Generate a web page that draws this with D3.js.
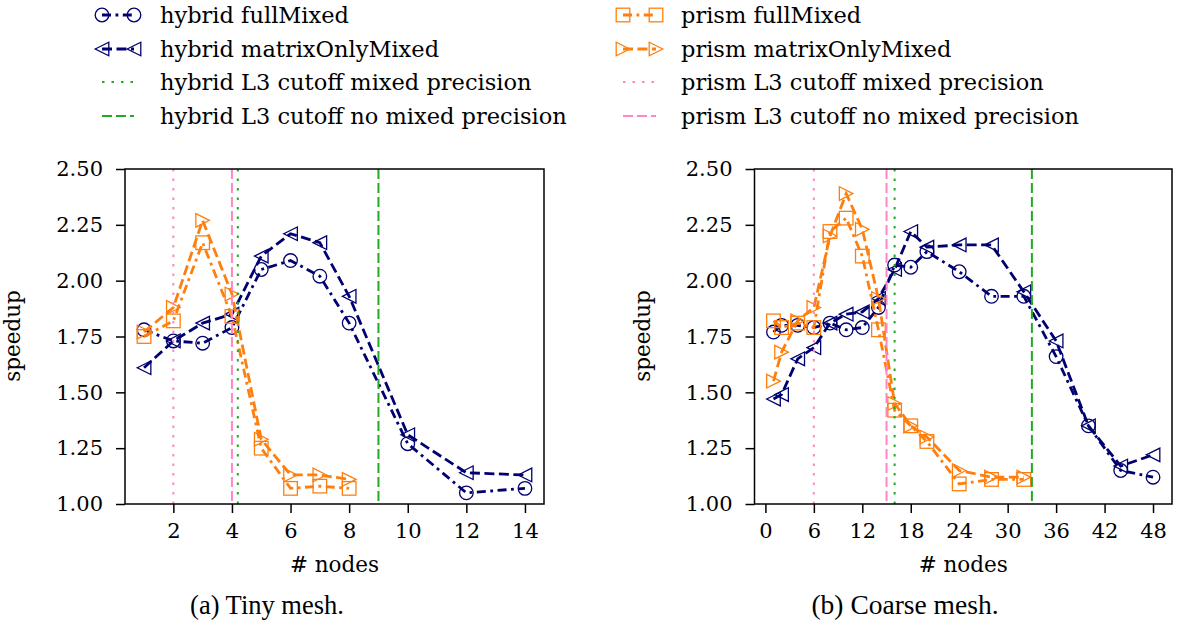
<html>
<head>
<script src="https://d3js.org/d3.v7.min.js"></script>
<style>
body { margin: 0; background: #fff; }
svg { display: block; font-family: "DejaVu Serif", serif; }
</style>
</head>
<body>
<svg width="1183" height="628"></svg>
<script>
// ---- data ----
var tinyNodes = [1, 2, 3, 4, 5, 6, 7, 8, 10, 12, 14];
var tinyHybridFull = [1.78, 1.73, 1.72, 1.79, 2.05, 2.09, 2.02, 1.81, 1.27, 1.05, 1.07];
var tinyHybridMatrix = [1.61, 1.73, 1.81, 1.85, 2.11, 2.21, 2.17, 1.93, 1.31, 1.14, 1.13];
var tinyPrismNodes = [1, 2, 3, 4, 5, 6, 7, 8];
var tinyPrismFull = [1.75, 1.82, 2.17, 1.84, 1.25, 1.07, 1.08, 1.07];
var tinyPrismMatrix = [1.77, 1.88, 2.27, 1.94, 1.29, 1.13, 1.13, 1.11];
// cutoffs: hybrid mixed, hybrid no mixed, prism mixed, prism no mixed
var tinyCutoffs = [4.2, 9, 2, 4];

var coarseNodes = [1, 2, 4, 6, 8, 10, 12, 14, 16, 18, 20, 24, 28, 32, 36, 40, 44, 48];
var coarseHybridFull = [1.77, 1.80, 1.80, 1.79, 1.81, 1.78, 1.79, 1.88, 2.07, 2.06, 2.13, 2.04, 1.93, 1.93, 1.66, 1.35, 1.15, 1.12];
var coarseHybridMatrix = [1.47, 1.49, 1.65, 1.70, 1.81, 1.85, 1.86, 1.92, 2.05, 2.22, 2.15, 2.16, 2.16, 1.95, 1.73, 1.35, 1.17, 1.22];
var coarsePrismNodes = [1, 2, 4, 6, 8, 10, 12, 14, 16, 18, 20, 24, 28, 32];
var coarsePrismFull = [1.82, 1.79, 1.81, 1.79, 2.22, 2.28, 2.11, 1.78, 1.42, 1.35, 1.28, 1.09, 1.11, 1.11];
var coarsePrismMatrix = [1.55, 1.68, 1.82, 1.88, 2.20, 2.39, 2.23, 1.92, 1.45, 1.35, 1.30, 1.15, 1.12, 1.12];
var coarseCutoffs = [16, 33, 6, 15];

var yTicks = [1.00, 1.25, 1.50, 1.75, 2.00, 2.25, 2.50];
var tinyXTicks = [2, 4, 6, 8, 10, 12, 14];
var coarseXTicks = [0, 6, 12, 18, 24, 30, 36, 42, 48];

var seriesNames = ["hybrid fullMixed", "hybrid matrixOnlyMixed", "prism fullMixed", "prism matrixOnlyMixed"];
var cutoffNames = ["hybrid L3 cutoff mixed precision", "hybrid L3 cutoff no mixed precision",
                   "prism L3 cutoff mixed precision", "prism L3 cutoff no mixed precision"];

// ---- styles ----
var navy = "#000070", orange = "#ff7f0e", green = "#22aa22", pink = "#ff85c4";
var dashed = "10,4.5", dashdot = "9,4.5,2.8,4.5";
var seriesStyle = [
  {color: navy, dash: dashdot, marker: "circle"},
  {color: navy, dash: dashed, marker: "tleft"},
  {color: orange, dash: dashdot, marker: "square"},
  {color: orange, dash: dashed, marker: "tright"}
];
var cutoffStyle = [
  {color: green, dash: "2.5,7"},
  {color: green, dash: "10,4"},
  {color: pink, dash: "2.5,7"},
  {color: pink, dash: "10,4"}
];

var svg = d3.select("svg");

function drawMarker(g, kind, x, y, color) {
  var s = 6.8;
  if (kind == "circle") {
    g.append("circle").attr("cx", x).attr("cy", y).attr("r", s)
      .attr("fill", "none").attr("stroke", color).attr("stroke-width", 1.3);
  } else if (kind == "square") {
    g.append("rect").attr("x", x - s).attr("y", y - s).attr("width", 2 * s).attr("height", 2 * s)
      .attr("fill", "none").attr("stroke", color).attr("stroke-width", 1.3);
  } else {
    var d = kind == "tleft" ? [[x - s, y], [x + s, y - s], [x + s, y + s]]
                            : [[x + s, y], [x - s, y - s], [x - s, y + s]];
    g.append("path").attr("d", "M" + d.join("L") + "Z")
      .attr("fill", "none").attr("stroke", color).attr("stroke-width", 1.3);
  }
}

function drawPanel(p) {
  var g = svg.append("g");
  var x = d3.scaleLinear().domain(p.xDomain).range([p.left, p.right]);
  var y = d3.scaleLinear().domain([1.0, 2.5]).range([504, 169]);

  var series = [
    {xs: p.nodes, ys: p.hybridFull},
    {xs: p.nodes, ys: p.hybridMatrix},
    {xs: p.prismNodes, ys: p.prismFull},
    {xs: p.prismNodes, ys: p.prismMatrix}
  ];
  var line = d3.line().x(function(d) { return x(d[0]); }).y(function(d) { return y(d[1]); });

  series.forEach(function(s, i) {
    var st = seriesStyle[i];
    var pts = s.xs.map(function(v, j) { return [v, s.ys[j]]; });
    g.append("path").attr("d", line(pts)).attr("fill", "none")
      .attr("stroke", st.color).attr("stroke-width", 2.8)
      .attr("stroke-dasharray", st.dash);
    pts.forEach(function(pt) { drawMarker(g, st.marker, x(pt[0]), y(pt[1]), st.color); });
  });

  p.cutoffs.forEach(function(c, i) {
    g.append("line").attr("x1", x(c)).attr("x2", x(c)).attr("y1", 169).attr("y2", 504)
      .attr("stroke", cutoffStyle[i].color).attr("stroke-width", 2)
      .attr("stroke-dasharray", cutoffStyle[i].dash);
  });

  // frame
  g.append("rect").attr("x", p.left).attr("y", 169).attr("width", p.right - p.left).attr("height", 335)
    .attr("fill", "none").attr("stroke", "#000").attr("stroke-width", 1.5);

  var xAxis = g.append("g").attr("transform", "translate(0,504)")
    .call(d3.axisBottom(x).tickValues(p.xTicks).tickSize(9).tickPadding(10).tickFormat(d3.format("d")));
  var yAxis = g.append("g").attr("transform", "translate(" + p.left + ",0)")
    .call(d3.axisLeft(y).tickValues(yTicks).tickSize(9).tickPadding(13).tickFormat(d3.format(".2f")));
  [xAxis, yAxis].forEach(function(a) {
    a.select(".domain").remove();
    a.selectAll(".tick line").attr("stroke", "#000").attr("stroke-width", 1.5);
    a.selectAll("text").attr("font-family", "DejaVu Serif").attr("font-size", 21).attr("fill", "#000");
  });

  g.append("text").attr("transform", "translate(" + (p.left - 105) + ",336) rotate(-90)")
    .attr("text-anchor", "middle").attr("font-size", 21.5).text("speedup");
  g.append("text").attr("x", (p.left + p.right) / 2).attr("y", 572)
    .attr("text-anchor", "middle").attr("font-size", 21.5).text("# nodes");
  g.append("text").attr("x", p.captionX).attr("y", 614)
    .attr("text-anchor", "middle").attr("font-family", "Liberation Serif").attr("font-size", p.captionSize)
    .text(p.caption);
}

drawPanel({
  left: 125, right: 544, xDomain: [0.35, 14.65], xTicks: tinyXTicks,
  nodes: tinyNodes, hybridFull: tinyHybridFull, hybridMatrix: tinyHybridMatrix,
  prismNodes: tinyPrismNodes, prismFull: tinyPrismFull, prismMatrix: tinyPrismMatrix,
  cutoffs: tinyCutoffs, caption: "(a) Tiny mesh.", captionX: 267, captionSize: 26.5
});
drawPanel({
  left: 754.5, right: 1172, xDomain: [-1.35, 50.35], xTicks: coarseXTicks,
  nodes: coarseNodes, hybridFull: coarseHybridFull, hybridMatrix: coarseHybridMatrix,
  prismNodes: coarsePrismNodes, prismFull: coarsePrismFull, prismMatrix: coarsePrismMatrix,
  cutoffs: coarseCutoffs, caption: "(b) Coarse mesh.", captionX: 905, captionSize: 27.5
});

// ---- legend (two columns) ----
var legend = svg.append("g");
var rowY = [15, 49, 82, 116];
var cols = [{x0: 102, x1: 134, tx: 160}, {x0: 623, x1: 656, tx: 681}];
var entries = [
  {col: 0, row: 0, name: seriesNames[0], st: seriesStyle[0], lw: 2.8},
  {col: 0, row: 1, name: seriesNames[1], st: seriesStyle[1], lw: 2.8},
  {col: 0, row: 2, name: cutoffNames[0], st: cutoffStyle[0], lw: 2},
  {col: 0, row: 3, name: cutoffNames[1], st: cutoffStyle[1], lw: 2},
  {col: 1, row: 0, name: seriesNames[2], st: seriesStyle[2], lw: 2.8},
  {col: 1, row: 1, name: seriesNames[3], st: seriesStyle[3], lw: 2.8},
  {col: 1, row: 2, name: cutoffNames[2], st: cutoffStyle[2], lw: 2},
  {col: 1, row: 3, name: cutoffNames[3], st: cutoffStyle[3], lw: 2}
];
entries.forEach(function(e) {
  var c = cols[e.col], yy = rowY[e.row];
  legend.append("line").attr("x1", c.x0).attr("x2", c.x1).attr("y1", yy).attr("y2", yy)
    .attr("stroke", e.st.color).attr("stroke-width", e.lw).attr("stroke-dasharray", e.st.dash);
  if (e.st.marker) {
    drawMarker(legend, e.st.marker, c.x0, yy, e.st.color);
    drawMarker(legend, e.st.marker, c.x1, yy, e.st.color);
  }
  legend.append("text").attr("x", c.tx).attr("y", yy).attr("dy", "0.35em")
    .attr("font-size", 22.5).text(e.name);
});
</script>
</body>
</html>
